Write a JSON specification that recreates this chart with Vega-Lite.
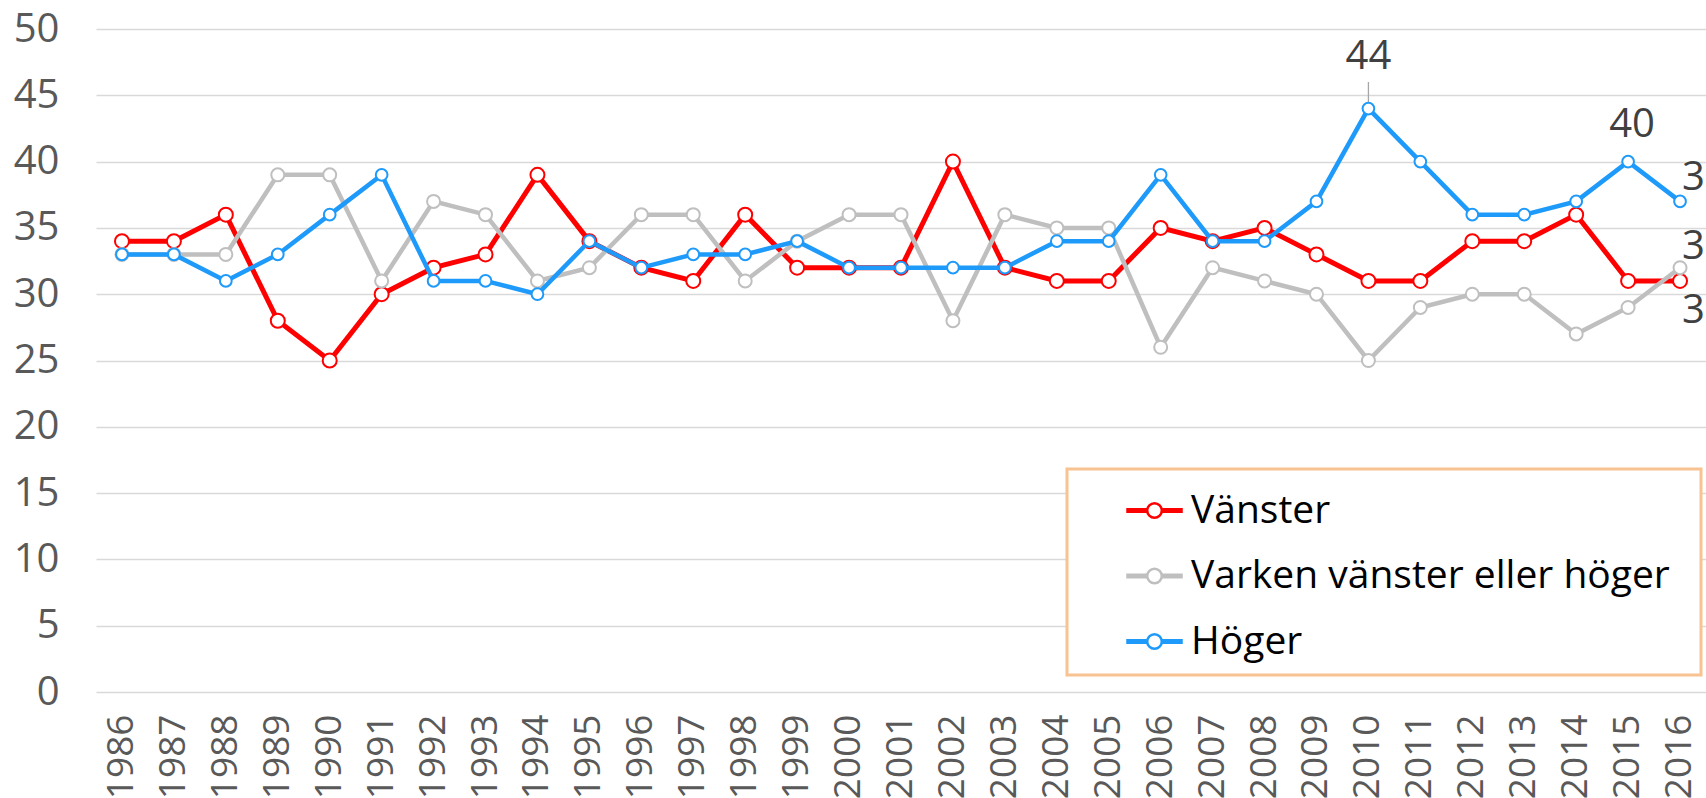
{
  "$schema": "https://vega.github.io/schema/vega-lite/v6.json",
  "width": 1610,
  "height": 663,
  "autosize": {"type": "none"},
  "padding": {"left": 96, "top": 29, "right": 0, "bottom": 106},
  "background": "white",
  "config": {
    "view": {"stroke": null},
    "font": "Open Sans",
    "legend": {
      "orient": "none",
      "legendX": 971,
      "legendY": 440,
      "symbolType": "M-1,-0.045L-0.27,-0.045L-0.27,0.045L-1,0.045Z M0.27,-0.045L1,-0.045L1,0.045L0.27,0.045Z M-0.27,0A0.27,0.27 0 1,1 0.27,0A0.27,0.27 0 1,1 -0.27,0Z",
      "symbolSize": 2916,
      "symbolStrokeWidth": 2.5,
      "symbolFillColor": "white",
      "labelFont": "Open Sans",
      "labelFontSize": 39,
      "labelColor": "black",
      "labelLimit": 1000,
      "labelOffset": 8,
      "strokeColor": "#F8C291",
      "strokeWidth": 3,
      "fillColor": "white",
      "padding": 13,
      "rowPadding": 16.5,
      "symbolOffset": 46
    }
  },
  "data": {
    "values": [
      {"year": 1986, "series": "Vänster", "value": 34},
      {"year": 1987, "series": "Vänster", "value": 34},
      {"year": 1988, "series": "Vänster", "value": 36},
      {"year": 1989, "series": "Vänster", "value": 28},
      {"year": 1990, "series": "Vänster", "value": 25},
      {"year": 1991, "series": "Vänster", "value": 30},
      {"year": 1992, "series": "Vänster", "value": 32},
      {"year": 1993, "series": "Vänster", "value": 33},
      {"year": 1994, "series": "Vänster", "value": 39},
      {"year": 1995, "series": "Vänster", "value": 34},
      {"year": 1996, "series": "Vänster", "value": 32},
      {"year": 1997, "series": "Vänster", "value": 31},
      {"year": 1998, "series": "Vänster", "value": 36},
      {"year": 1999, "series": "Vänster", "value": 32},
      {"year": 2000, "series": "Vänster", "value": 32},
      {"year": 2001, "series": "Vänster", "value": 32},
      {"year": 2002, "series": "Vänster", "value": 40},
      {"year": 2003, "series": "Vänster", "value": 32},
      {"year": 2004, "series": "Vänster", "value": 31},
      {"year": 2005, "series": "Vänster", "value": 31},
      {"year": 2006, "series": "Vänster", "value": 35},
      {"year": 2007, "series": "Vänster", "value": 34},
      {"year": 2008, "series": "Vänster", "value": 35},
      {"year": 2009, "series": "Vänster", "value": 33},
      {"year": 2010, "series": "Vänster", "value": 31},
      {"year": 2011, "series": "Vänster", "value": 31},
      {"year": 2012, "series": "Vänster", "value": 34},
      {"year": 2013, "series": "Vänster", "value": 34},
      {"year": 2014, "series": "Vänster", "value": 36},
      {"year": 2015, "series": "Vänster", "value": 31},
      {"year": 2016, "series": "Vänster", "value": 31},
      {"year": 1986, "series": "Varken vänster eller höger", "value": 33},
      {"year": 1987, "series": "Varken vänster eller höger", "value": 33},
      {"year": 1988, "series": "Varken vänster eller höger", "value": 33},
      {"year": 1989, "series": "Varken vänster eller höger", "value": 39},
      {"year": 1990, "series": "Varken vänster eller höger", "value": 39},
      {"year": 1991, "series": "Varken vänster eller höger", "value": 31},
      {"year": 1992, "series": "Varken vänster eller höger", "value": 37},
      {"year": 1993, "series": "Varken vänster eller höger", "value": 36},
      {"year": 1994, "series": "Varken vänster eller höger", "value": 31},
      {"year": 1995, "series": "Varken vänster eller höger", "value": 32},
      {"year": 1996, "series": "Varken vänster eller höger", "value": 36},
      {"year": 1997, "series": "Varken vänster eller höger", "value": 36},
      {"year": 1998, "series": "Varken vänster eller höger", "value": 31},
      {"year": 1999, "series": "Varken vänster eller höger", "value": 34},
      {"year": 2000, "series": "Varken vänster eller höger", "value": 36},
      {"year": 2001, "series": "Varken vänster eller höger", "value": 36},
      {"year": 2002, "series": "Varken vänster eller höger", "value": 28},
      {"year": 2003, "series": "Varken vänster eller höger", "value": 36},
      {"year": 2004, "series": "Varken vänster eller höger", "value": 35},
      {"year": 2005, "series": "Varken vänster eller höger", "value": 35},
      {"year": 2006, "series": "Varken vänster eller höger", "value": 26},
      {"year": 2007, "series": "Varken vänster eller höger", "value": 32},
      {"year": 2008, "series": "Varken vänster eller höger", "value": 31},
      {"year": 2009, "series": "Varken vänster eller höger", "value": 30},
      {"year": 2010, "series": "Varken vänster eller höger", "value": 25},
      {"year": 2011, "series": "Varken vänster eller höger", "value": 29},
      {"year": 2012, "series": "Varken vänster eller höger", "value": 30},
      {"year": 2013, "series": "Varken vänster eller höger", "value": 30},
      {"year": 2014, "series": "Varken vänster eller höger", "value": 27},
      {"year": 2015, "series": "Varken vänster eller höger", "value": 29},
      {"year": 2016, "series": "Varken vänster eller höger", "value": 32},
      {"year": 1986, "series": "Höger", "value": 33},
      {"year": 1987, "series": "Höger", "value": 33},
      {"year": 1988, "series": "Höger", "value": 31},
      {"year": 1989, "series": "Höger", "value": 33},
      {"year": 1990, "series": "Höger", "value": 36},
      {"year": 1991, "series": "Höger", "value": 39},
      {"year": 1992, "series": "Höger", "value": 31},
      {"year": 1993, "series": "Höger", "value": 31},
      {"year": 1994, "series": "Höger", "value": 30},
      {"year": 1995, "series": "Höger", "value": 34},
      {"year": 1996, "series": "Höger", "value": 32},
      {"year": 1997, "series": "Höger", "value": 33},
      {"year": 1998, "series": "Höger", "value": 33},
      {"year": 1999, "series": "Höger", "value": 34},
      {"year": 2000, "series": "Höger", "value": 32},
      {"year": 2001, "series": "Höger", "value": 32},
      {"year": 2002, "series": "Höger", "value": 32},
      {"year": 2003, "series": "Höger", "value": 32},
      {"year": 2004, "series": "Höger", "value": 34},
      {"year": 2005, "series": "Höger", "value": 34},
      {"year": 2006, "series": "Höger", "value": 39},
      {"year": 2007, "series": "Höger", "value": 34},
      {"year": 2008, "series": "Höger", "value": 34},
      {"year": 2009, "series": "Höger", "value": 37},
      {"year": 2010, "series": "Höger", "value": 44},
      {"year": 2011, "series": "Höger", "value": 40},
      {"year": 2012, "series": "Höger", "value": 36},
      {"year": 2013, "series": "Höger", "value": 36},
      {"year": 2014, "series": "Höger", "value": 37},
      {"year": 2015, "series": "Höger", "value": 40},
      {"year": 2016, "series": "Höger", "value": 37}
    ]
  },
  "encoding": {
    "x": {
      "field": "year",
      "type": "ordinal",
      "title": null,
      "axis": {
        "labelAngle": -90,
        "labelFontSize": 37,
        "labelColor": "#595959",
        "labelFont": "Open Sans",
        "labelPadding": 22,
        "ticks": false,
        "domain": false,
        "grid": false
      }
    },
    "y": {
      "field": "value",
      "type": "quantitative",
      "title": null,
      "scale": {"domain": [0, 50], "nice": false},
      "axis": {
        "values": [0, 5, 10, 15, 20, 25, 30, 35, 40, 45, 50],
        "labelFontSize": 40,
        "labelColor": "#595959",
        "labelFont": "Open Sans",
        "labelPadding": 37,
        "ticks": false,
        "domain": false,
        "grid": true,
        "gridColor": "#D9D9D9",
        "gridWidth": 1.5
      }
    }
  },
  "layer": [
    {
      "transform": [{"filter": "datum.series === 'Höger' && datum.year === 2010"}],
      "mark": {"type": "rule", "color": "#A6A6A6", "strokeWidth": 1.3},
      "encoding": {"y2": {"datum": 46}}
    },
    {
      "transform": [{"filter": "datum.series === 'Vänster'"}],
      "mark": {"type": "line", "strokeWidth": 5, "point": {"filled": false, "fill": "white", "size": 196, "strokeWidth": 2}},
      "encoding": {
        "color": {
          "field": "series",
          "type": "nominal",
          "scale": {"domain": ["Vänster", "Varken vänster eller höger", "Höger"], "range": ["#FF0000", "#BFBFBF", "#1E9AFA"]},
          "legend": {
            "title": " ",
            "titleOrient": "right",
            "titleFontSize": 2,
            "titlePadding": 18
          }
        }
      }
    },
    {
      "transform": [{"filter": "datum.series === 'Varken vänster eller höger'"}],
      "mark": {"type": "line", "strokeWidth": 4.5, "point": {"filled": false, "fill": "white", "size": 169, "strokeWidth": 2}},
      "encoding": {"color": {"field": "series", "type": "nominal"}}
    },
    {
      "transform": [{"filter": "datum.series === 'Höger'"}],
      "mark": {"type": "line", "strokeWidth": 4.5, "point": {"filled": false, "fill": "white", "size": 137, "strokeWidth": 2}},
      "encoding": {"color": {"field": "series", "type": "nominal"}}
    },
    {
      "transform": [{"filter": "datum.series === 'Höger' && datum.year === 2010"}],
      "mark": {"type": "text", "fontSize": 40, "font": "Open Sans", "color": "#404040", "align": "center", "baseline": "alphabetic", "dy": -40},
      "encoding": {"text": {"field": "value", "type": "quantitative"}}
    },
    {
      "transform": [{"filter": "datum.series === 'Höger' && datum.year === 2015"}],
      "mark": {"type": "text", "fontSize": 40, "font": "Open Sans", "color": "#404040", "align": "center", "baseline": "alphabetic", "dx": 4, "dy": -25},
      "encoding": {"text": {"field": "value", "type": "quantitative"}}
    },
    {
      "transform": [{"filter": "datum.series === 'Höger' && datum.year === 2016"}],
      "mark": {"type": "text", "fontSize": 40, "font": "Open Sans", "color": "#404040", "align": "left", "baseline": "alphabetic", "dx": 2, "dy": -11},
      "encoding": {"text": {"field": "value", "type": "quantitative"}}
    },
    {
      "transform": [{"filter": "datum.series === 'Varken vänster eller höger' && datum.year === 2016"}],
      "mark": {"type": "text", "fontSize": 40, "font": "Open Sans", "color": "#404040", "align": "left", "baseline": "alphabetic", "dx": 2, "dy": -9},
      "encoding": {"text": {"field": "value", "type": "quantitative"}}
    },
    {
      "transform": [{"filter": "datum.series === 'Vänster' && datum.year === 2016"}],
      "mark": {"type": "text", "fontSize": 40, "font": "Open Sans", "color": "#404040", "align": "left", "baseline": "alphabetic", "dx": 2, "dy": 42},
      "encoding": {"text": {"field": "value", "type": "quantitative"}}
    }
  ]
}
